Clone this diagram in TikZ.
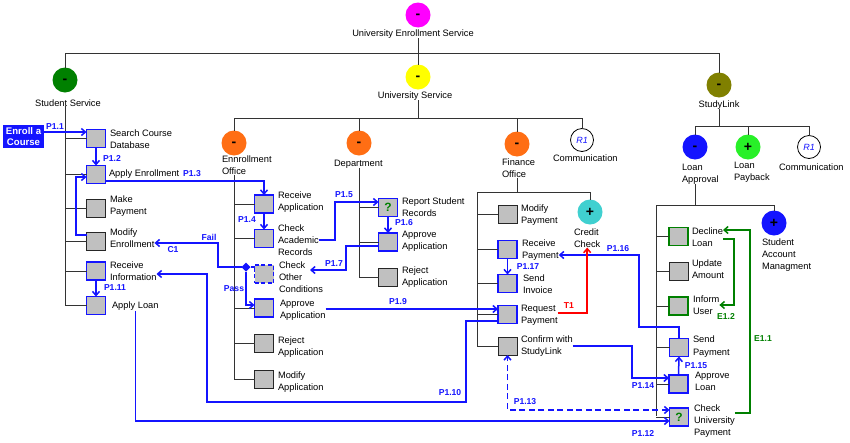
\documentclass[tikz,border=0pt]{standalone}
\usepackage{fontspec}
\setmainfont{Liberation Sans}
\usetikzlibrary{arrows.meta,shapes.geometric}
\definecolor{fb}{RGB}{20,20,255}
\definecolor{bgray}{RGB}{192,192,192}
\definecolor{dgreen}{RGB}{0,128,0}
\definecolor{orng}{RGB}{255,110,20}
\definecolor{olv}{RGB}{128,128,0}
\definecolor{mag}{RGB}{255,0,255}
\definecolor{yel}{RGB}{255,255,0}
\definecolor{lgreen}{RGB}{40,240,40}
\definecolor{tealc}{RGB}{64,208,208}
\definecolor{tred}{RGB}{255,0,0}
\begin{document}
\begin{tikzpicture}[x=1pt,y=-1pt,
 every node/.style={inner sep=0pt, outer sep=0pt},
 txt/.style={anchor=west, align=left, font=\fontsize{9.3}{12.3}\selectfont},
 ctxt/.style={anchor=center, align=center, font=\fontsize{9.3}{12.3}\selectfont},
 circ/.style={circle, minimum size=25pt, font=\bfseries\fontsize{14}{14}\selectfont},
 mcirc/.style={circ, text height=7.4pt, text depth=0pt},
 rone/.style={circle, draw=black, fill=white, line width=0.8pt, minimum size=23pt, text=fb, font=\itshape\fontsize{9}{9}\selectfont},
 box/.style={draw=black!85, fill=bgray, minimum width=19pt, minimum height=18pt, line width=1pt},
 bbox/.style={box, draw=fb, line width=1.8pt},
 gbox/.style={box, draw=dgreen, line width=1.8pt},
 qmark/.style={text=dgreen, font=\bfseries\fontsize{12}{12}\selectfont},
 tree/.style={draw=black!80, line width=0.9pt},
 tip/.style={-{Straight Barb[length=4pt,width=7pt]}},
 flow/.style={draw=fb, line width=1.5pt, tip},
 gline/.style={draw=dgreen, line width=1.5pt, tip},
 tline/.style={draw=tred, line width=1.5pt, tip},
 plab/.style={text=fb, font=\bfseries\fontsize{8.6}{9}\selectfont},
]
\useasboundingbox (0,0) rectangle (850,442);

% ---------- top level ----------
\node[mcirc, fill=mag] (ues) at (418,15) {-};
\node[ctxt] (uestxt) at (413,34) {University Enrollment Service};
\node[mcirc, fill=dgreen] (ss) at (65,80) {-};
\node[ctxt] (sstxt) at (68,103) {Student Service};
\node[mcirc, fill=yel] (us) at (418,77) {-};
\node[ctxt] (ustxt) at (415,96) {University Service};
\node[mcirc, fill=olv] (sl) at (719,85) {-};
\node[ctxt] (sltxt) at (719,105) {StudyLink};

\draw[tree] (ues.north |- uestxt.south) -- (us.north);
\draw[tree] (ss.north) |- (sl.north |- 0,53) -- (sl.north);

% ---------- university service ----------
\node[mcirc, fill=orng] (eo) at (234,143) {-};
\node[txt] (eotxt) at (222,165) {Ennrollment\\Office};
\node[mcirc, fill=orng] (dep) at (359,143) {-};
\node[txt] (deptxt) at (334,164) {Department};
\node[mcirc, fill=orng] (fo) at (517,144) {-};
\node[txt] (fotxt) at (502,168) {Finance\\Office};
\node[rone] (r1a) at (582,140) {R1};
\node[txt] (r1atxt) at (553,158) {Communication};

\draw[tree] (us.south |- ustxt.south) -- (us.south |- 0,118);
\draw[tree] (eo.north) |- (r1a.north |- 0,118) -- (r1a.north);
\draw[tree] (dep.north) -- (dep.north |- 0,118);
\draw[tree] (fo.north) -- (fo.north |- 0,118);

% ---------- student service ----------
\node[fill=fb, text=white, font=\bfseries\fontsize{9.6}{10.5}\selectfont, align=center, minimum width=41pt, minimum height=23pt] (enroll) at (23.5,136.5) {Enroll a\\Course};

\node[bbox] (search) at (96,138.5) {};
\node[bbox] (applyenr) at (96,174.5) {};
\node[box] (makepay) at (96,208) {};
\node[box] (modenr) at (96,241) {};
\node[bbox] (recinfo) at (96,271) {};
\node[bbox] (applyloan) at (96,305.5) {};
\node[txt] (searchtxt) at (110,139.5) {Search Course\\Database};
\node[txt] (applyenrtxt) at (109,174) {Apply Enrollment};
\node[txt] (makepaytxt) at (110,206) {Make\\Payment};
\node[txt] (modenrtxt) at (110,238) {Modify\\Enrollment};
\node[txt] (recinfotxt) at (110,271.5) {Receive\\Information};
\node[txt] (applyloantxt) at (112,306.5) {Apply Loan};

\draw[tree] (ss.south |- sstxt.south) -- (ss.south |- applyloan.west);
\foreach \b in {search,applyenr,makepay,modenr,recinfo,applyloan}
  \draw[tree] (ss.south |- \b.west) -- (\b.west);

% ---------- enrollment office ----------
\node[bbox] (recvapp) at (264,204) {};
\node[bbox] (checkacad) at (264,238.5) {};
\node[box, draw=fb, line width=1.8pt, dash pattern=on 4pt off 2.5pt] (checkother) at (264,274) {};
\node[bbox] (eoapprove) at (264,308) {};
\node[box] (eoreject) at (264,343) {};
\node[box] (eomodify) at (264,379) {};
\node[txt] (recvapptxt) at (278,202) {Receive\\Application};
\node[txt] (checkacadtxt) at (278,240) {Check\\Academic\\Records};
\node[txt] (checkothertxt) at (279,277) {Check\\Other\\Conditions};
\node[txt] (eoapprovetxt) at (280,310.5) {Approve\\Application};
\node[txt] (eorejecttxt) at (278,347) {Reject\\Application};
\node[txt] (eomodifytxt) at (278,382) {Modify\\Application};

\draw[tree] (eo.south |- eotxt.south) -- (eo.south |- eomodify.west);
\foreach \b in {recvapp,checkacad,eoapprove,eoreject,eomodify}
  \draw[tree] (eo.south |- \b.west) -- (\b.west);
\node[diamond, fill=fb, minimum size=9pt] (dmd) at (246,267) {};
\draw[tree] (eo.south |- dmd) -- (dmd.west);
\draw[draw=fb, line width=1.5pt] (dmd.east) -- (checkother.west |- dmd);

% ---------- department ----------
\node[bbox, qmark] (report) at (388,207.5) {?};
\node[bbox] (depapprove) at (388,242) {};
\node[box] (depreject) at (388,277.5) {};
\node[txt] (reporttxt) at (402,207) {Report Student\\Records};
\node[txt] (depapprovetxt) at (402,241) {Approve\\Application};
\node[txt] (deprejecttxt) at (402,277) {Reject\\Application};

\draw[tree] (dep.south |- deptxt.south) -- (dep.south |- depreject.west);
\foreach \b in {report,depapprove,depreject}
  \draw[tree] (dep.south |- \b.west) -- (\b.west);

% ---------- finance office ----------
\node[box] (modpay) at (507.5,214.5) {};
\node[bbox] (recpay) at (507.5,249.5) {};
\node[bbox] (sendinv) at (507.5,283.5) {};
\node[bbox] (reqpay) at (507.5,314.5) {};
\node[box] (confirm) at (507.5,346) {};
\node[txt] (modpaytxt) at (521,215) {Modify\\Payment};
\node[txt] (recpaytxt) at (522,250) {Receive\\Payment};
\node[txt] (sendinvtxt) at (523,284) {Send\\Invoice};
\node[txt] (reqpaytxt) at (521,315.5) {Request\\Payment};
\node[txt] (confirmtxt) at (521,346) {Confirm with\\StudyLink};
\node[circ, fill=tealc] (credit) at (590,212) {+};
\node[txt] (credittxt) at (574,238) {Credit\\Check};

\coordinate (fov) at (477,192);
\draw[tree] (fo.south |- fotxt.south) -- (fo.south |- fov);
\draw[tree] (fov) -- (credit.north |- fov) -- (credit.north);
\draw[tree] (fov) -- (fov |- confirm.west);
\foreach \b in {modpay,recpay,sendinv,reqpay,confirm}
  \draw[tree] (fov |- \b.west) -- (\b.west);

% ---------- studylink ----------
\node[mcirc, fill=fb] (la) at (695,147) {-};
\node[circ, fill=lgreen] (lp) at (748,147) {+};
\node[rone] (r1b) at (809,147) {R1};
\node[txt] (latxt) at (682,174) {Loan\\Approval};
\node[txt] (lptxt) at (734,172) {Loan\\Payback};
\node[txt] (r1btxt) at (779,167) {Communication};

\draw[tree] (sl.south |- sltxt.south) -- (sl.south |- 0,126);
\draw[tree] (la.north) |- (r1b.north |- 0,126) -- (r1b.north);
\draw[tree] (lp.north) -- (lp.north |- 0,126);

\node[circ, fill=fb] (sam) at (774,223) {+};
\node[txt] (samtxt) at (762,255) {Student\\Account\\Managment};

\node[gbox] (decline) at (678.5,236.5) {};
\node[box] (update) at (678.5,271.5) {};
\node[gbox] (inform) at (678.5,306) {};
\node[bbox] (sendpay) at (679,347.5) {};
\node[bbox] (approveloan) at (678.5,384) {};
\node[bbox, qmark] (checkunipay) at (679,417) {?};
\node[txt] (declinetxt) at (692,237) {Decline\\Loan};
\node[txt] (updatetxt) at (692,269) {Update\\Amount};
\node[txt] (informtxt) at (693,305) {Inform\\User};
\node[txt] (sendpaytxt) at (693,346.5) {Send\\Payment};
\node[txt] (approveloantxt) at (695,381) {Approve\\Loan};
\node[txt] (checkunipaytxt) at (694,421) {Check\\University\\Payment};

\coordinate (lav) at (656,205);
\draw[tree] (la.south |- latxt.south) -- (la.south |- lav);
\draw[tree] (lav) -- (sam.north |- lav) -- (sam.north);
\draw[tree] (lav) -- (lav |- 0,416);
\foreach \b in {decline,update,inform,sendpay,approveloan,checkunipay}
  \draw[tree] (lav |- \b.west) -- (\b.west);

% ---------- flows ----------
\draw[flow] (enroll.east |- 0,132) -- (search.west |- 0,132);
\draw[flow] (search.south) -- (applyenr.north);
\draw[flow] (applyenr.east |- 0,181) -| (recvapp.north);
\draw[flow] (recvapp.south) -- (checkacad.north);
\draw[flow] (checkacadtxt.east) -| (335,202) -- (report.west |- 0,202);
\draw[flow] (report.south) -- (depapprove.north);
\coordinate (c17) at (310,270);
\draw[flow] (depapprove.west |- 0,246) -| (346,270) -- (c17);
\draw[flow] (dmd.west) -| (218,243) -- (modenrtxt.east |- 0,243);
\draw[flow] (dmd.south) |- (eoapprove.west |- 0,305);
\draw[flow] (modenr.west |- 0,235) -| (76,177) -- (applyenr.west |- 0,177);
\draw[flow] (eoapprovetxt.east |- 0,309) -- (reqpay.west |- 0,309);
\draw[flow] (reqpay.west |- 0,321) -| (466,402) -| (207,274) -- (recinfotxt.east |- 0,274);
\draw[flow] (recinfo.south) -- (applyloan.north);
\draw[flow] (applyloantxt.south) |- (checkunipay.west |- 0,421);
\draw[flow, {Straight Barb[length=4pt,width=7pt]}-{Straight Barb[length=4pt,width=7pt]}, dash pattern=on 6pt off 3.5pt] (checkunipay.west |- 0,410) -| (confirm.south);
\draw[flow] (confirmtxt.east) -| (632,378) -- (approveloan.west |- 0,378);
\draw[flow] (approveloan.north) -- (sendpay.south);
\draw[flow] (sendpay.north) |- (639,327) |- (recpaytxt.east |- 0,255);
\draw[flow] (recpay.south) -- (sendinv.north);
\draw[tline] (reqpaytxt.east |- 0,313) -| (credittxt.south);
\draw[gline] (checkunipaytxt.east |- 0,413) -| (750,230) -- (declinetxt.east |- 0,230);
\draw[gline] (declinetxt.east |- 0,239) -| (734,305) -- (informtxt.east |- 0,305);

% ---------- labels ----------
\node[plab] (l11) at (55,127) {P1.1};
\node[plab] (l12) at (112,158) {P1.2};
\node[plab] (l13) at (192,174) {P1.3};
\node[plab] (l14) at (247,220) {P1.4};
\node[plab] (l15) at (344,195) {P1.5};
\node[plab] (l16) at (404,223) {P1.6};
\node[plab] (l17) at (334,264) {P1.7};
\node[plab] (lfail) at (209,237) {Fail};
\node[plab] (lc1) at (173,250) {C1};
\node[plab] (lpass) at (234,289) {Pass};
\node[plab] (l19) at (398,302) {P1.9};
\node[plab] (l110) at (450,393) {P1.10};
\node[plab] (l111) at (115,288) {P1.11};
\node[plab] (l112) at (643,433) {P1.12};
\node[plab] (l113) at (525,402) {P1.13};
\node[plab] (l114) at (643,386) {P1.14};
\node[plab] (l115) at (696,366) {P1.15};
\node[plab] (l116) at (618,249) {P1.16};
\node[plab] (l117) at (528,267) {P1.17};
\node[plab, text=tred] (lt1) at (569,306) {T1};
\node[plab, text=dgreen] (le11) at (763,339) {E1.1};
\node[plab, text=dgreen] (le12) at (726,316) {E1.2};
\end{tikzpicture}
\end{document}
